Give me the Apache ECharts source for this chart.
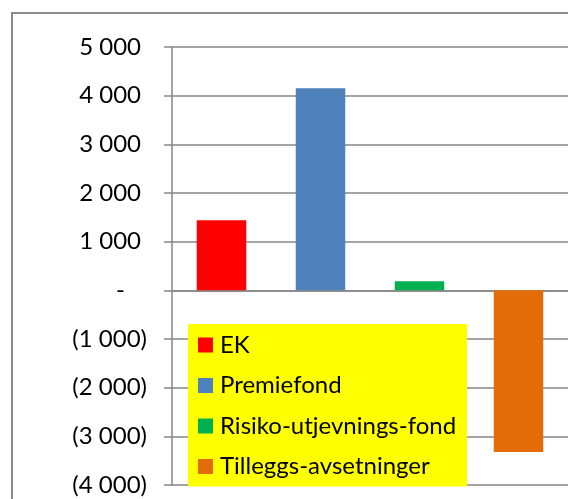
<!DOCTYPE html>
<html>
<head>
<meta charset="utf-8">
<script src="https://cdn.jsdelivr.net/npm/echarts@6/dist/echarts.min.js"></script>
<style>
html,body{margin:0;padding:0;background:#fff;}
#c{width:568px;height:499px;}
</style>
</head>
<body>
<div id="c"></div>
<script>
var categories = ['EK', 'Premiefond', 'Risiko-utjevnings-fond', 'Tilleggs-avsetninger'];
var values = [1440, 4150, 185, -3320];
var colors = ['#FF0000', '#4F81BD', '#00B050', '#E36C09'];
var yMin = -4000, yMax = 5000, yStep = 1000;

function fmt(v) {
  if (v === 0) return '{z|-}';
  var a = Math.abs(v).toString().replace(/\B(?=(\d{3})+(?!\d))/g, ' ');
  return v < 0 ? '{n|(' + a + ')}' : '{p|' + a + '}';
}

var series = categories.map(function (name, i) {
  var d = categories.map(function (c, j) { return j === i ? values[i] : null; });
  return {
    name: name,
    type: 'bar',
    data: d,
    barWidth: '50%',
    barGap: '-100%',
    itemStyle: { color: colors[i] },
    z: 1
  };
});

var lineStyle = { color: '#868686', width: 1.5 };
var chart = echarts.init(document.getElementById('c'), null, { renderer: 'canvas' });
chart.setOption({
  animation: false,
  backgroundColor: '#fff',
  textStyle: { fontFamily: 'Lato' },
  graphic: [{
    type: 'rect',
    shape: { x: 12, y: 13, width: 700, height: 700 },
    style: { fill: 'none', stroke: '#8c8c8c', lineWidth: 2 },
    z: 0
  }],
  grid: { left: 172, top: 47, width: 400, height: 438 },
  legend: {
    data: categories,
    orient: 'vertical',
    left: 188,
    top: 324,
    height: 300,
    itemWidth: 15,
    itemHeight: 15,
    itemGap: 16.5,
    icon: 'rect',
    padding: [9, 11, 8, 10],
    backgroundColor: '#FFFF00',
    textStyle: { fontFamily: 'Lato', fontSize: 24, color: '#000', padding: [0, 0, 0, 2] },
    z: 10
  },
  xAxis: {
    type: 'category',
    data: categories,
    axisLine: { onZero: true, lineStyle: lineStyle },
    axisTick: { show: false },
    axisLabel: { show: false },
    splitLine: { show: false }
  },
  yAxis: {
    type: 'value',
    min: yMin, max: yMax, interval: yStep,
    axisLine: { show: true, lineStyle: lineStyle },
    axisTick: { show: true, length: 8, lineStyle: lineStyle },
    splitLine: { show: true, lineStyle: lineStyle },
    axisLabel: {
      margin: 25,
      formatter: fmt,
      rich: {
        p: { fontFamily: 'Lato', fontSize: 24, color: '#000', padding: [0, 6, 0, 0] },
        n: { fontFamily: 'Lato', fontSize: 24, color: '#000' },
        z: { fontFamily: 'Lato', fontSize: 24, color: '#000', padding: [0, 22, 0, 0] }
      }
    }
  },
  series: series
});
</script>
</body>
</html>
